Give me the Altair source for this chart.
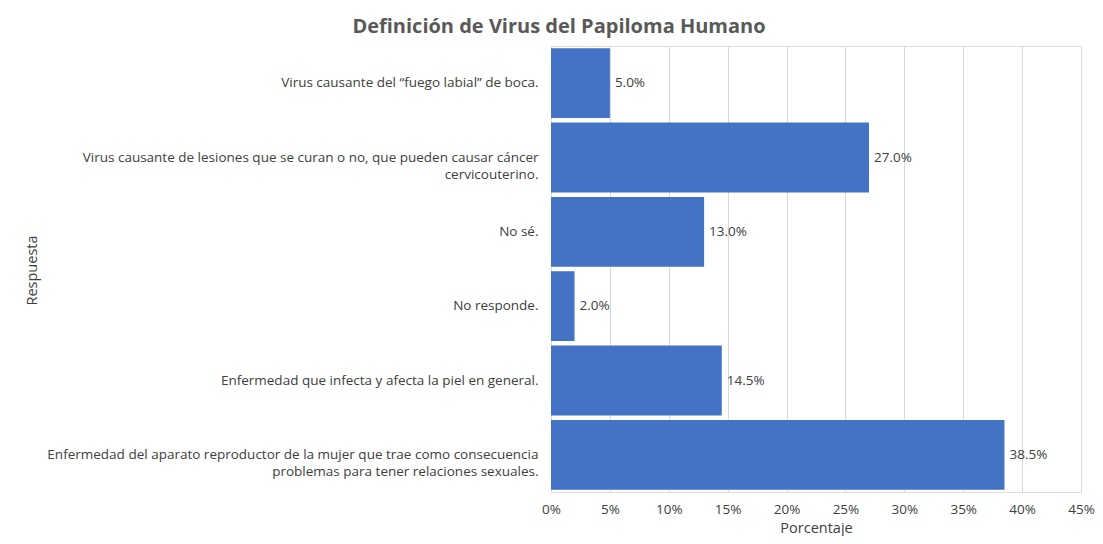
import altair as alt
import pandas as pd

categories = [
    "Virus causante del “fuego labial” de boca.",
    "Virus causante de lesiones que se curan o no, que pueden causar cáncer\ncervicouterino.",
    "No sé.",
    "No responde.",
    "Enfermedad que infecta y afecta la piel en general.",
    "Enfermedad del aparato reproductor de la mujer que trae como consecuencia\nproblemas para tener relaciones sexuales.",
]
values = [5.0, 27.0, 13.0, 2.0, 14.5, 38.5]
tick_values = [0, 5, 10, 15, 20, 25, 30, 35, 40, 45]

df = pd.DataFrame({"cat": categories, "val": [v / 100 for v in values]})
df["label"] = [f"{v:.1f}%" for v in values]

FONT = "Open Sans"

y_enc = alt.Y(
    "cat:N",
    sort=categories,
    scale=alt.Scale(paddingInner=0.06, paddingOuter=0.03),
    axis=alt.Axis(
        title="Respuesta",
        labelFont=FONT,
        labelFontSize=13.5,
        labelLineHeight=17,
        labelColor="#404040",
        labelExpr="split(datum.label, '\\n')",
        labelLimit=700,
        labelPadding=13,
        ticks=False,
        domain=False,
        titleFont=FONT,
        titleFontSize=14.5,
        titleFontWeight="normal",
        titleColor="#404040",
        titleX=-512,
        titleY=224,
        titleAngle=270,
    ),
)

x_enc = alt.X(
    "val:Q",
    scale=alt.Scale(domain=[0, 0.45], nice=False),
    axis=alt.Axis(
        values=[t / 100 for t in tick_values],
        format=".0%",
        title="Porcentaje",
        labelFont=FONT,
        labelFontSize=13.5,
        labelColor="#404040",
        labelPadding=10,
        labelFlush=False,
        ticks=False,
        domain=False,
        grid=True,
        gridColor="#D9D9D9",
        titleFont=FONT,
        titleFontSize=14.5,
        titleFontWeight="normal",
        titleColor="#404040",
        titlePadding=6,
    ),
)

bars = alt.Chart(df).mark_bar(color="#4472C4").encode(x=x_enc, y=y_enc)

labels = alt.Chart(df).mark_text(
    align="left", dx=5, font=FONT, fontSize=13.5, color="#404040"
).encode(x="val:Q", y=alt.Y("cat:N", sort=categories), text="label:N")

chart = (
    alt.layer(bars, labels)
    .properties(
        width=530,
        height=446,
        autosize=alt.AutoSizeParams(type="none"),
        padding={"left": 543, "top": 38, "right": 14, "bottom": 44},
        title=alt.TitleParams(
            "Definición de Virus del Papiloma Humano",
            font=FONT,
            fontSize=20,
            fontWeight="bold",
            color="#595959",
            anchor="middle",
            dx=-257,
            offset=9,
        ),
    )
    .configure_view(stroke=None)
    .configure(background="white")
)

chart.save("out.html", embed_options={"renderer": "svg", "actions": False})
